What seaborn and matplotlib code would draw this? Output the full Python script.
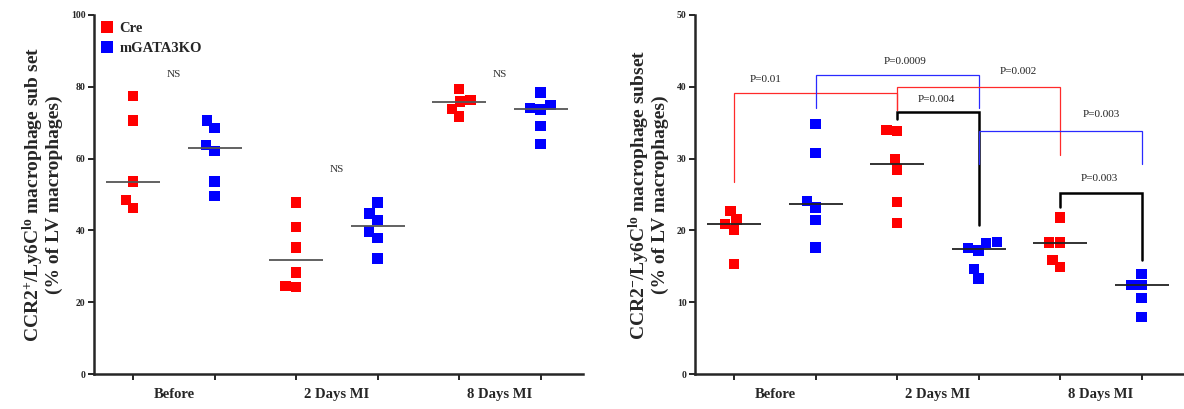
import numpy as np
import pandas as pd
import seaborn as sns
import matplotlib
matplotlib.use("Agg")
import matplotlib.pyplot as plt
from matplotlib.lines import Line2D

# ---------------- data ----------------
groups = ["Before", "2 Days MI", "8 Days MI"]
genotypes = ["Cre", "mGATA3KO"]

# Left panel: CCR2+/Ly6Clo (% of LV macrophages)
pos_before_cre = [77.5, 70.6, 53.6, 48.4, 46.3]
pos_before_ko = [70.6, 68.5, 63.8, 62.1, 53.6, 49.6]
pos_d2_cre = [47.8, 40.9, 35.2, 28.3, 24.3, 24.6]
pos_d2_ko = [47.8, 44.7, 42.8, 39.7, 37.9, 32.2]
pos_d8_cre = [79.3, 76.3, 75.9, 73.9, 71.7]
pos_d8_ko = [78.4, 74.9, 73.7, 74.0, 69.1, 64.0]

# Right panel: CCR2-/Ly6Clo (% of LV macrophages)
neg_before_cre = [22.7, 21.5, 20.9, 20.1, 15.3]
neg_before_ko = [34.8, 30.8, 24.1, 23.2, 21.4, 17.6]
neg_d2_cre = [34.0, 33.8, 29.9, 28.5, 24.0, 21.0]
neg_d2_ko = [18.4, 17.5, 17.2, 18.2, 14.6, 13.3]
neg_d8_cre = [21.8, 18.3, 18.3, 15.9, 14.9]
neg_d8_ko = [13.9, 12.4, 12.4, 10.6, 7.9]

ns_labels = ["NS", "NS", "NS"]
ns_y = [83.5, 57.0, 83.5]

br_x1 = [0, 1, 2, 2, 3, 4]
br_x2 = [2, 3, 3, 4, 5, 5]
br_top = [39.2, 41.6, 36.5, 40.0, 33.9, 25.2]
br_low1 = [26.8, 37.0, 35.5, 36.7, 29.2, 23.3]
br_low2 = [36.7, 37.0, 20.7, 30.5, 29.2, 15.9]
br_label = ["P=0.01", "P=0.0009", "P=0.004", "P=0.002", "P=0.003", "P=0.003"]
br_label_x = [0.39, 2.1, 2.48, 3.49, 4.5, 4.48]
br_label_y = [41.0, 43.5, 38.2, 42.2, 36.2, 27.2]

# ---------------- styling ----------------
SERIF = ["Liberation Serif", "DejaVu Serif"]
sns.set_style("ticks")
plt.rcParams["font.family"] = SERIF
plt.rcParams["mathtext.fontset"] = "custom"
plt.rcParams["mathtext.rm"] = "Liberation Serif:bold"
plt.rcParams["mathtext.bf"] = "Liberation Serif:bold"
plt.rcParams["mathtext.it"] = "Liberation Serif:bold"

palette = {"Cre": "#ff0000", "mGATA3KO": "#0000ff"}
br_colors = ["#ff2a2a", "#2a2aff", "black", "#ff2a2a", "#2a2aff", "black"]
br_widths = [0.9, 0.9, 1.8, 0.9, 0.9, 1.8]


def build_df(series):
    rows = []
    order = []
    for g, pair in zip(groups, series):
        for gt, vals in zip(genotypes, pair):
            key = f"{g}|{gt}"
            order.append(key)
            for v in vals:
                rows.append({"cond": key, "genotype": gt, "value": v})
    return pd.DataFrame(rows), order


df_pos, order = build_df([(pos_before_cre, pos_before_ko),
                          (pos_d2_cre, pos_d2_ko),
                          (pos_d8_cre, pos_d8_ko)])
df_neg, _ = build_df([(neg_before_cre, neg_before_ko),
                      (neg_d2_cre, neg_d2_ko),
                      (neg_d8_cre, neg_d8_ko)])

fig = plt.figure(figsize=(11.84, 4.09), dpi=100)
ax1 = fig.add_axes([94 / 1184, 1 - 374 / 409, (583 - 94) / 1184, (374 - 15) / 409])
ax2 = fig.add_axes([695 / 1184, 1 - 374 / 409, (1184 - 695) / 1184, (374 - 15) / 409])


def draw_panel(ax, df, ylim, yticks, ylabel, med_color):
    sns.swarmplot(data=df, x="cond", y="value", hue="genotype", order=order,
                  palette=palette, marker="s", size=7.4, linewidth=0,
                  ax=ax, legend=False, zorder=3)
    sns.boxplot(data=df, x="cond", y="value", order=order, width=0.66,
                showbox=False, showcaps=False, showfliers=False,
                whiskerprops={"visible": False},
                medianprops={"color": med_color, "linewidth": 1.3, "zorder": 4},
                ax=ax)
    ax.set_xlim(-0.48, 5.52)
    ax.set_ylim(*ylim)
    ax.set_yticks(yticks)
    ax.set_yticklabels([str(t) for t in yticks], fontsize=7, fontweight="bold")
    ax.set_xticks(range(6), labels=[""] * 6)
    ax.set_xticks([0.5, 2.5, 4.5], labels=groups, minor=True)
    for lab in ax.get_xticklabels(minor=True):
        lab.set_fontsize(10.5)
        lab.set_fontweight("bold")
    ax.tick_params(axis="x", which="minor", length=0, pad=10)
    ax.tick_params(axis="both", which="major", length=4, width=1.4, direction="out", pad=2)
    ax.set_xlabel("")
    ax.set_ylabel(ylabel, fontsize=14, fontweight="bold", labelpad=6, linespacing=0.95)
    for s in ["top", "right"]:
        ax.spines[s].set_visible(False)
    for s in ["left", "bottom"]:
        ax.spines[s].set_linewidth(1.8)


draw_panel(ax1, df_pos, (0, 100), [0, 20, 40, 60, 80, 100],
           "CCR2$^{+}$/Ly6C$^{\\mathrm{lo}}$ macrophage sub set\n(% of LV macrophages)", "#555555")
draw_panel(ax2, df_neg, (0, 50), [0, 10, 20, 30, 40, 50],
           "CCR2$^{-}$/Ly6C$^{\\mathrm{lo}}$ macrophage subset\n(% of LV macrophages)", "#222222")

# NS labels on left panel
for i, (lab, y) in enumerate(zip(ns_labels, ns_y)):
    ax1.text(2 * i + 0.5, y, lab, ha="center", va="center", fontsize=8, color="#333333")

# Legend on left panel
handles = [Line2D([0], [0], marker="s", linestyle="", markersize=8,
                  markerfacecolor=palette[g], markeredgewidth=0) for g in genotypes]
leg = ax1.legend(handles, genotypes, loc="upper left", bbox_to_anchor=(-0.012, 1.018),
                 frameon=False, handlelength=0.8, handletextpad=0.45, labelspacing=0.5,
                 prop={"family": SERIF, "weight": "bold", "size": 10.5})

# Significance brackets on right panel
for x1, x2, top, l1, l2, c, w, lab, lx, ly in zip(br_x1, br_x2, br_top, br_low1, br_low2,
                                                  br_colors, br_widths, br_label,
                                                  br_label_x, br_label_y):
    ax2.plot([x1, x1, x2, x2], [l1, top, top, l2], color=c, linewidth=w,
             solid_joinstyle="miter", zorder=2)
    ax2.text(lx, ly, lab, ha="center", va="center", fontsize=8, color="#222222")

fig.savefig("out.png", dpi=100)
